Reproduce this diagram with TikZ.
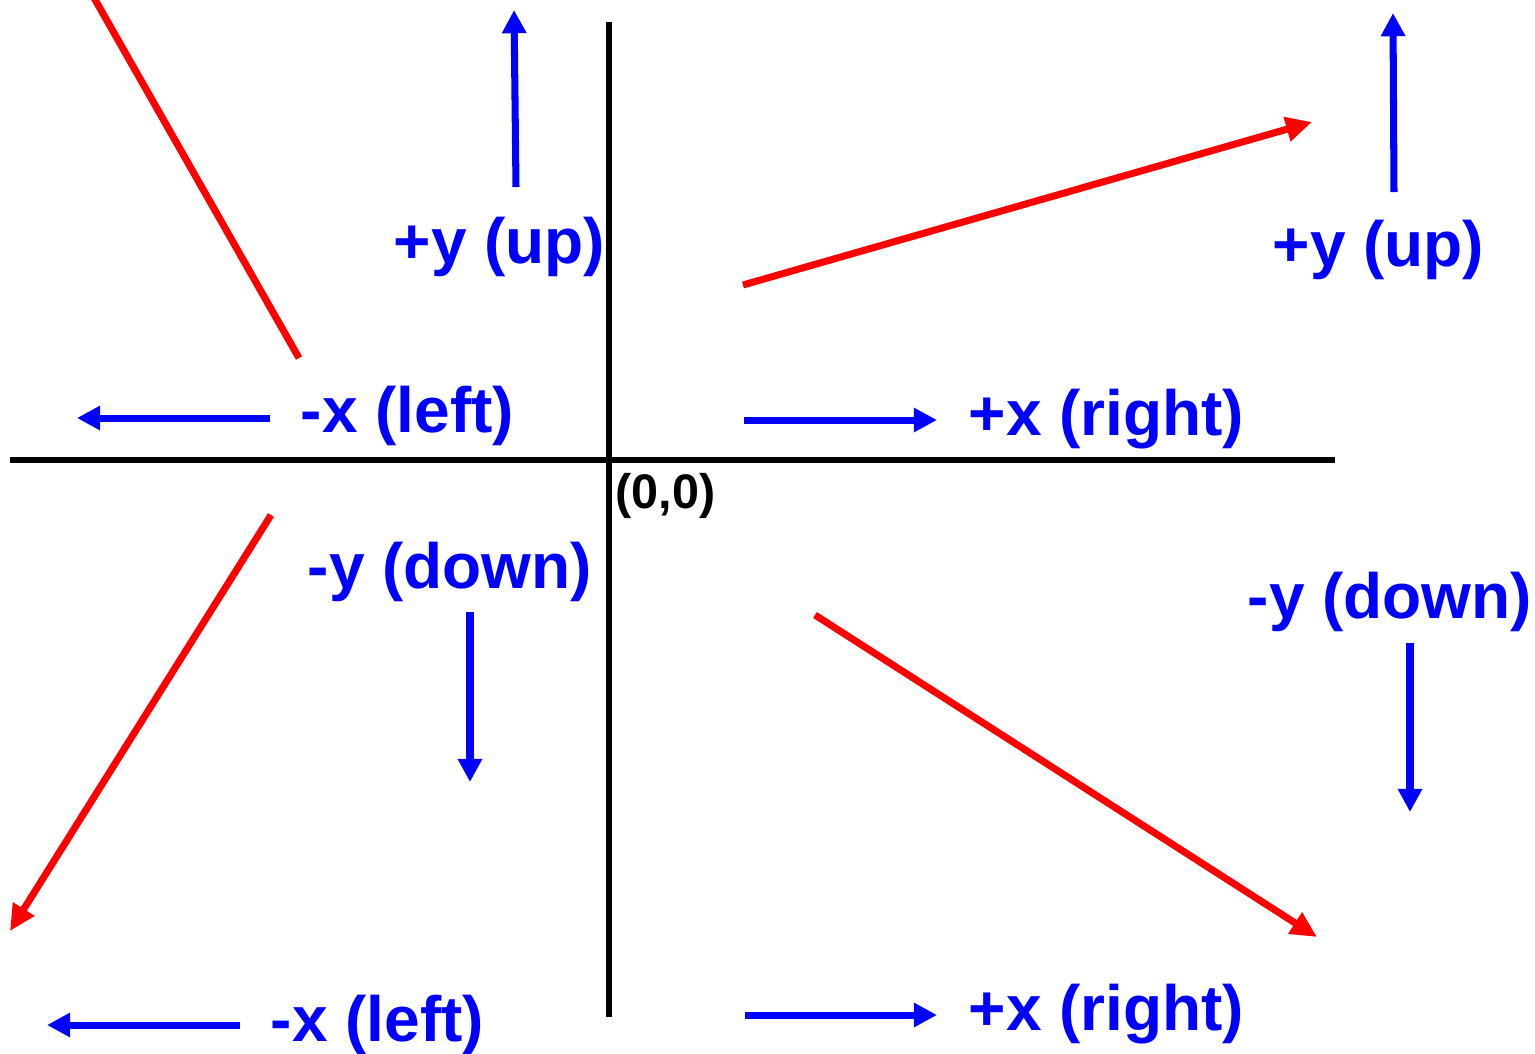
\documentclass[tikz,border=0pt]{standalone}
\usepackage{fontspec}
\setmainfont{Liberation Sans}
\usetikzlibrary{arrows.meta}

\tikzset{
  axis/.style={line width=1.9pt, black},
  bluearrow/.style={draw=blue, line width=2pt, -{Triangle[length=6.6pt, width=6.6pt]}},
  redline/.style={draw=red, line width=2pt},
  redarrow/.style={redline, -{Triangle[length=7.4pt, width=6.8pt]}},
  dirlabel/.style={text=blue, font=\fontsize{18.2}{20}\selectfont\bfseries, inner sep=0pt, anchor=base west},
}

\begin{document}
\begin{tikzpicture}[x=0.01cm, y=-0.01cm]
	\useasboundingbox (0,0) rectangle (1535,1053);
	% axes
	\draw[axis] (10,460) -- (1335,460);
	\draw[axis] (609,22) -- (609,1017);
	\node[inner sep=0pt, anchor=base west, font=\fontsize{13.8}{15}\selectfont\bfseries](origin) at (615,508){(0,0)};
	% labels
	\node[dirlabel](upL) at (393,263){+y (up)};
	\node[dirlabel](upR) at (1272,266){+y (up)};
	\node[dirlabel](leftM) at (300,432){-x (left)};
	\node[dirlabel](rightM) at (968,435){+x (right)};
	\node[dirlabel](downL) at (307,588){-y (down)};
	\node[dirlabel](downR) at (1247,618){-y (down)};
	\node[dirlabel](leftB) at (270,1041){-x (left)};
	\node[dirlabel](rightB) at (968,1030){+x (right)};
	% blue arrows
	\draw[bluearrow] (516,187) -- (514,10);
	\draw[bluearrow] (1394,192) -- (1393,13);
	\draw[bluearrow] (270,418) -- (77,418);
	\draw[bluearrow] (744,420) -- (937,420);
	\draw[bluearrow] (470,612) -- (470,782);
	\draw[bluearrow] (1410,643) -- (1410,812);
	\draw[bluearrow] (240,1025) -- (47,1025);
	\draw[bluearrow] (745,1015) -- (937,1015);
	% red lines
	\draw[redline] (93,-4) -- (299,358);
	\draw[redarrow] (743,285) -- (1312,122);
	\draw[redarrow] (271,515) -- (10,931);
	\draw[redarrow] (815,615) -- (1317,937);
\end{tikzpicture}
\end{document}
